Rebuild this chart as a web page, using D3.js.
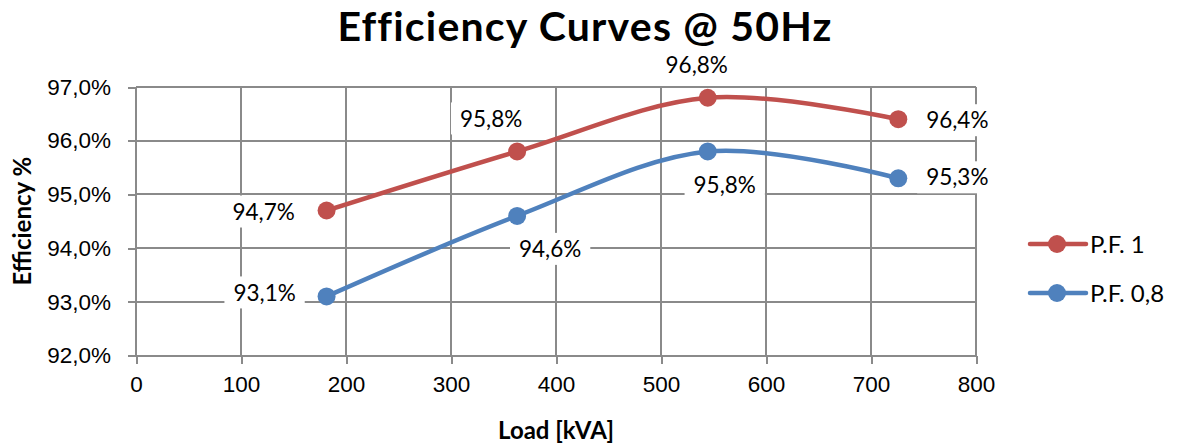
<!DOCTYPE html>
<html>
<head>
<meta charset="utf-8">
<title>efficiency-curves</title>
<script src="https://cdnjs.cloudflare.com/ajax/libs/d3/7.8.5/d3.min.js"></script>
<style>
  body { margin: 0; background: #fff; }
  svg { font-family: Lato, "Open Sans", sans-serif; }
  .grid line { stroke: #8a8a8a; stroke-width: 2px; shape-rendering: crispEdges; }
  .axis path { display: none; }
  .axis line { stroke: #8a8a8a; stroke-width: 2px; shape-rendering: crispEdges; }
  .axis text { font-size: 22.5px; fill: #000; }
  .title { font-size: 41px; font-weight: bold; letter-spacing: 1.2px; }
  .axis-title { font-size: 24px; font-weight: bold; }
  .dlabel { font-size: 22.5px; fill: #000; }
  .legend text { font-size: 24px; }
</style>
</head>
<body>
<svg width="1177" height="448"></svg>
<script>
// data
var loads = [181.5, 363, 544.5, 726];
var pf1 = [94.7, 95.8, 96.8, 96.4];
var pf08 = [93.1, 94.6, 95.8, 95.3];
var seriesNames = ["P.F. 1", "P.F. 0,8"];
var xTicks = [0, 100, 200, 300, 400, 500, 600, 700, 800];
var yTicks = [92, 93, 94, 95, 96, 97];

var colors = ["#C0504D", "#4F81BD"];
// label offsets (px) relative to each point
var labelOffsets = [
  [[-63, 1], [-26, -33], [-11, -33], [59, 1]],
  [[-62, -4], [33, 33], [17, 33], [59, -1]]
];

var svg = d3.select("svg"),
    margin = { top: 87, left: 136 },
    width = 840,
    height = 268.5,
    g = svg.append("g").attr("transform", "translate(" + margin.left + "," + margin.top + ")");

var fmt = function(v) { return v.toFixed(1).replace(".", ",") + "%"; };

var x = d3.scaleLinear().domain([0, 800]).range([0, width]);
var y = d3.scaleLinear().domain([92, 97]).range([height, 0]);

// gridlines
g.append("g").attr("class", "grid")
  .selectAll("line.h").data(yTicks).enter().append("line")
  .attr("x1", 0).attr("x2", width)
  .attr("y1", function(d) { return y(d); }).attr("y2", function(d) { return y(d); });
g.select(".grid")
  .selectAll("line.v").data(xTicks).enter().append("line")
  .attr("y1", 0).attr("y2", height)
  .attr("x1", function(d) { return x(d); }).attr("x2", function(d) { return x(d); });

g.append("g").attr("class", "axis")
  .attr("transform", "translate(0," + height + ")")
  .call(d3.axisBottom(x).tickValues(xTicks).tickSize(8).tickPadding(13).tickFormat(d3.format("d")));

g.append("g").attr("class", "axis")
  .call(d3.axisLeft(y).tickValues(yTicks).tickSize(8).tickPadding(17).tickFormat(fmt));

var line = d3.line()
  .x(function(d) { return x(d[0]); })
  .y(function(d) { return y(d[1]); })
  .curve(d3.curveCardinal.tension(0));

var series = [pf1, pf08].map(function(vals) {
  return vals.map(function(v, i) { return [loads[i], v]; });
});

series.forEach(function(pts, s) {
  g.append("path").datum(pts)
    .attr("fill", "none").attr("stroke", colors[s]).attr("stroke-width", 4.5)
    .attr("stroke-linecap", "round")
    .attr("d", line);
  g.selectAll(null).data(pts).enter().append("circle")
    .attr("cx", function(d) { return x(d[0]); })
    .attr("cy", function(d) { return y(d[1]); })
    .attr("r", 9).attr("fill", colors[s]);
});

// data labels with white boxes
series.forEach(function(pts, s) {
  pts.forEach(function(d, i) {
    var cx = x(d[0]) + labelOffsets[s][i][0],
        cy = y(d[1]) + labelOffsets[s][i][1];
    var lg = g.append("g");
    var t = lg.append("text").attr("class", "dlabel")
      .attr("x", cx).attr("y", cy).attr("dy", "0.36em")
      .attr("text-anchor", "middle").text(fmt(d[1]));
    var bb = t.node().getBBox();
    lg.insert("rect", "text")
      .attr("x", bb.x - 9).attr("y", cy - 16)
      .attr("width", bb.width + 18).attr("height", 32)
      .attr("fill", "#fff");
  });
});

// title
svg.append("text").attr("class", "title")
  .attr("x", 585).attr("y", 41).attr("text-anchor", "middle")
  .text("Efficiency Curves @ 50Hz");

svg.append("text").attr("class", "axis-title")
  .attr("transform", "translate(31," + (margin.top + height / 2) + ") rotate(-90)")
  .attr("text-anchor", "middle")
  .text("Efficiency %");

svg.append("text").attr("class", "axis-title")
  .attr("x", 556).attr("y", 439).attr("text-anchor", "middle")
  .text("Load [kVA]");

// legend
var legend = svg.append("g").attr("class", "legend")
  .attr("transform", "translate(1030,244)");
seriesNames.forEach(function(name, s) {
  var lg = legend.append("g").attr("transform", "translate(0," + (s * 49) + ")");
  lg.append("line").attr("x1", 0).attr("x2", 56).attr("y1", 0).attr("y2", 0)
    .attr("stroke", colors[s]).attr("stroke-width", 4.5).attr("stroke-linecap", "round");
  lg.append("circle").attr("cx", 27).attr("cy", 0).attr("r", 9).attr("fill", colors[s]);
  lg.append("text").attr("x", 60).attr("dy", "0.36em").text(name);
});
</script>
</body>
</html>
